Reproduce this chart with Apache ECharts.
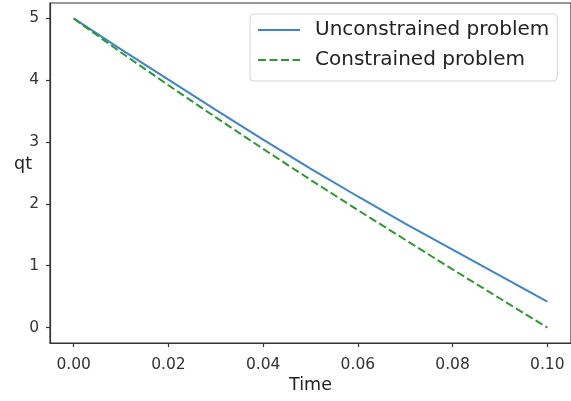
<!DOCTYPE html>
<html>
<head>
<meta charset="utf-8">
<script src="https://cdn.jsdelivr.net/npm/echarts@6/dist/echarts.min.js"></script>
<style>
html,body{margin:0;padding:0;background:#fff;}
#chart{width:571px;height:401px;}
</style>
</head>
<body>
<div id="chart"></div>
<script>
const times = [0.00, 0.01, 0.02, 0.03, 0.04, 0.05, 0.06, 0.07, 0.08, 0.09, 0.10];
const unconstrained = [5.00, 4.50, 4.01, 3.52, 3.04, 2.57, 2.12, 1.68, 1.26, 0.84, 0.42];
const constrained = [5.00, 4.45, 3.92, 3.40, 2.89, 2.39, 1.90, 1.42, 0.94, 0.47, 0.00];
const xTicks = [0.00, 0.02, 0.04, 0.06, 0.08, 0.10];
const yTicks = [0, 1, 2, 3, 4, 5];
const seriesNames = ['Unconstrained problem', 'Constrained problem'];

const FONT = 'DejaVu Sans';
const chart = echarts.init(document.getElementById('chart'), null, {renderer: 'canvas'});
chart.setOption({
  animation: false,
  backgroundColor: '#fff',
  grid: {
    left: 50, top: 3, right: -1, bottom: 58,
    show: true, borderColor: '#333', borderWidth: 1.2, backgroundColor: 'transparent'
  },
  legend: {
    orient: 'vertical',
    left: 250, top: 14,
    width: 311,
    padding: [6, 8, 11, 7],
    itemWidth: 42, itemHeight: 14, itemGap: 10,
    backgroundColor: '#fff',
    borderColor: '#d4d4d4', borderWidth: 1, borderRadius: 4,
    itemStyle: {color: 'transparent', borderColor: 'transparent', borderWidth: 0},
    textStyle: {fontFamily: FONT, fontSize: 20, color: '#222', lineHeight: 20, padding: [0, 0, 0, 10]},
    data: seriesNames
  },
  xAxis: {
    type: 'value', min: -0.005, max: 0.105,
    name: 'Time', nameLocation: 'middle', nameGap: 33, nameMoveOverlap: false,
    nameTextStyle: {fontFamily: FONT, fontSize: 17.5, color: '#222'},
    splitLine: {show: false},
    axisLine: {show: true, onZero: false, lineStyle: {color: '#333', width: 1.2}},
    axisTick: {show: true, length: 4, lineStyle: {color: '#333', width: 1.2}, customValues: xTicks},
    axisLabel: {fontFamily: FONT, fontSize: 15.5, color: '#333', margin: 14, customValues: xTicks,
      formatter: v => v.toFixed(2)}
  },
  yAxis: {
    type: 'value', min: -0.25, max: 5.25,
    name: 'qt', nameLocation: 'middle', nameGap: 18, nameRotate: 0, nameMoveOverlap: false,
    nameTextStyle: {fontFamily: FONT, fontSize: 17.5, color: '#222', verticalAlign: 'bottom'},
    splitLine: {show: false},
    axisLine: {show: true, onZero: false, lineStyle: {color: '#333', width: 1.2}},
    axisTick: {show: true, length: 4, lineStyle: {color: '#333', width: 1.2}, customValues: yTicks},
    axisLabel: {fontFamily: FONT, fontSize: 15.5, color: '#333', margin: 11, customValues: yTicks,
      formatter: v => String(Math.round(v))}
  },
  series: [
    {
      name: seriesNames[0], type: 'line', symbol: 'none', smooth: false,
      data: times.map((t, i) => [t, unconstrained[i]]),
      lineStyle: {color: '#3d85c6', width: 2},
      itemStyle: {color: '#3d85c6'}
    },
    {
      name: seriesNames[1], type: 'line', symbol: 'none', smooth: false,
      data: times.map((t, i) => [t, constrained[i]]),
      lineStyle: {color: '#2a9a2a', width: 2, type: [8, 3.5]},
      itemStyle: {color: '#2a9a2a'}
    }
  ]
});
</script>
</body>
</html>
